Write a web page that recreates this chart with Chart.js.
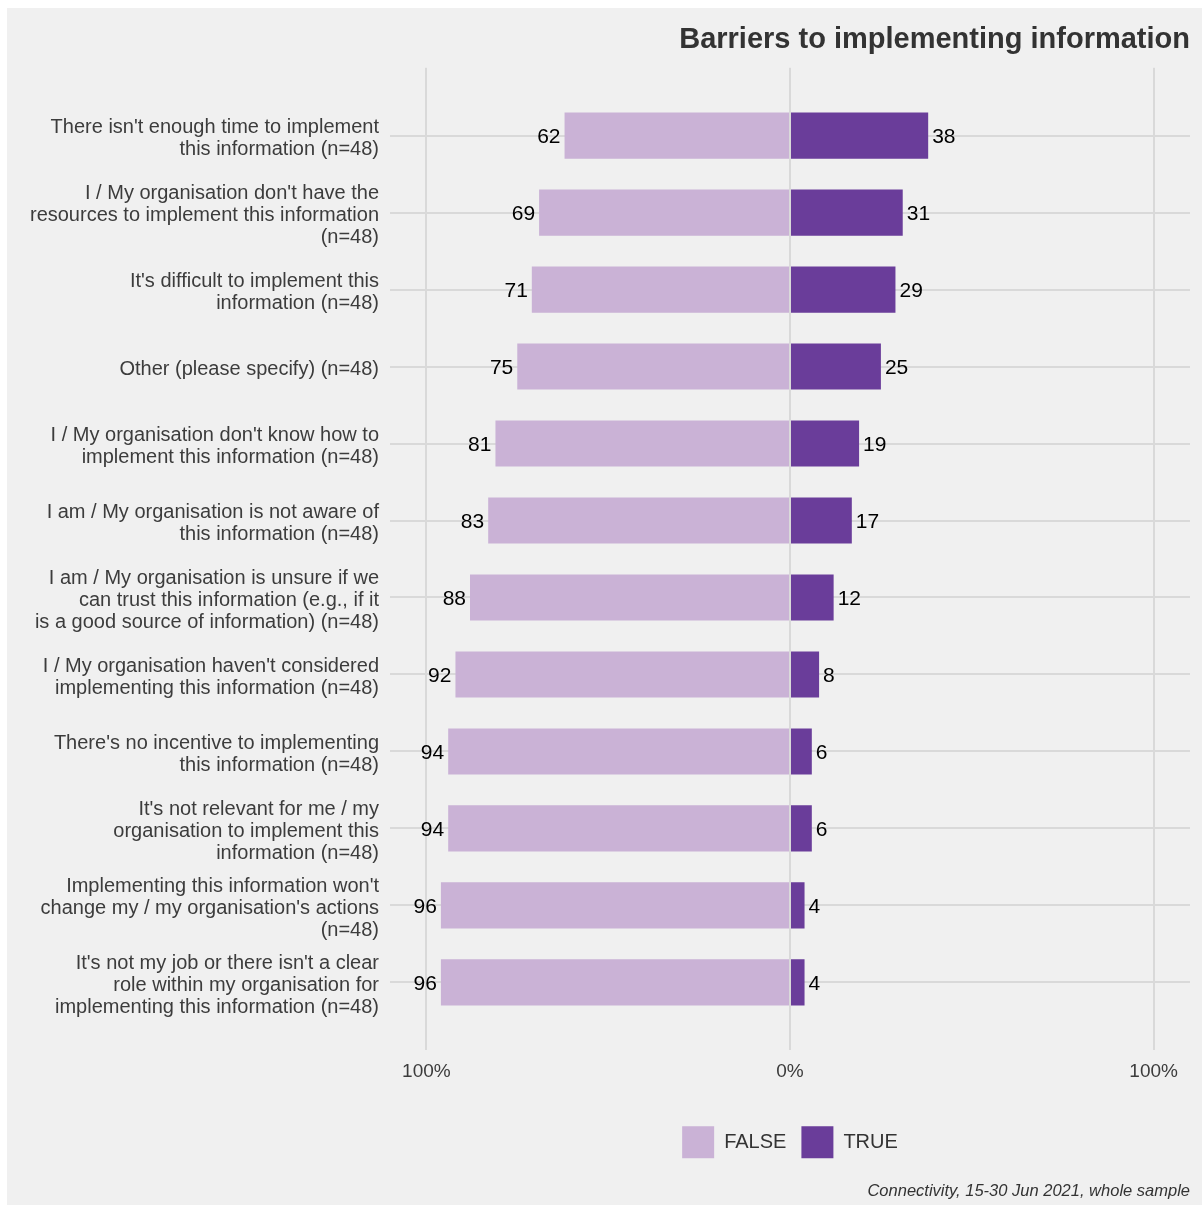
<!DOCTYPE html>
<html>
<head>
<meta charset="utf-8">
<script src="https://cdn.jsdelivr.net/npm/chart.js@4/dist/chart.umd.min.js"></script>
<style>
  html, body { margin: 0; padding: 0; background: #ffffff; }
  #panel {
    position: absolute;
    left: 7px;
    top: 8px;
    width: 1195px;
    height: 1197px;
    background: #f0f0f0;
  }
</style>
</head>
<body>
<div id="panel"><canvas id="chart"></canvas></div>
<script>
const categories = [
  ["There isn't enough time to implement", "this information (n=48)"],
  ["I / My organisation don't have the", "resources to implement this information", "(n=48)"],
  ["It's difficult to implement this", "information (n=48)"],
  ["Other (please specify) (n=48)"],
  ["I / My organisation don't know how to", "implement this information (n=48)"],
  ["I am / My organisation is not aware of", "this information (n=48)"],
  ["I am / My organisation is unsure if we", "can trust this information (e.g., if it", "is a good source of information) (n=48)"],
  ["I / My organisation haven't considered", "implementing this information (n=48)"],
  ["There's no incentive to implementing", "this information (n=48)"],
  ["It's not relevant for me / my", "organisation to implement this", "information (n=48)"],
  ["Implementing this information won't", "change my / my organisation's actions", "(n=48)"],
  ["It's not my job or there isn't a clear", "role within my organisation for", "implementing this information (n=48)"]
]

const falseShare = [62, 69, 71, 75, 81, 83, 88, 92, 94, 94, 96, 96]
const trueShare = [38, 31, 29, 25, 19, 17, 12, 8, 6, 6, 4, 4]

const xTicks = [-100, 0, 100]
const xTickLabels = ['100%', '0%', '100%']

const FONT = '"Liberation Sans", Arial, sans-serif'
const GRID = '#d9d9d9'

// percentages printed at the outer end of each bar
const valueLabels = {
  id: 'valueLabels',
  afterDatasetsDraw(chart) {
    const ctx = chart.ctx
    ctx.save()
    ctx.font = '21px ' + FONT
    ctx.fillStyle = '#000000'
    ctx.textBaseline = 'middle'
    chart.data.datasets.forEach((ds, di) => {
      chart.getDatasetMeta(di).data.forEach((bar, i) => {
        const v = ds.data[i].x
        const neg = v < 0
        ctx.textAlign = neg ? 'right' : 'left'
        ctx.fillText(String(Math.abs(v)), bar.x + (neg ? -4 : 4), bar.y + 2)
      })
    })
    ctx.restore()
  }
}

new Chart(document.getElementById('chart'), {
  type: 'bar',
  data: {
    datasets: [
      {
        label: 'FALSE',
        data: falseShare.map((v, i) => ({ x: -v, y: i })),
        backgroundColor: '#cab2d6',
        borderWidth: 0
      },
      {
        label: 'TRUE',
        data: trueShare.map((v, i) => ({ x: v, y: i })),
        backgroundColor: '#6a3d9a',
        borderWidth: 0
      }
    ]
  },
  options: {
    indexAxis: 'y',
    responsive: true,
    maintainAspectRatio: false,
    animation: false,
    categoryPercentage: 1,
    barPercentage: 0.6,
    layout: { padding: { right: 12 } },
    scales: {
      x: {
        type: 'linear',
        stacked: true,
        min: -110,
        max: 110,
        border: { display: false },
        grid: { color: GRID, lineWidth: 2, drawTicks: false },
        afterBuildTicks: axis => { axis.ticks = xTicks.map(v => ({ value: v })) },
        afterFit: axis => { axis.height = 61 },
        ticks: {
          padding: 10,
          color: '#3c3c3c',
          font: { family: FONT, size: 19 },
          callback: (value) => xTickLabels[xTicks.indexOf(value)]
        }
      },
      y: {
        type: 'linear',
        stacked: true,
        reverse: true,
        offset: false,
        min: -0.88,
        max: categories.length - 1 + 0.88,
        border: { display: false },
        grid: { color: GRID, lineWidth: 2, drawTicks: false, offset: false },
        afterBuildTicks: axis => { axis.ticks = categories.map((_, i) => ({ value: i })) },
        afterFit: axis => { axis.width = 383 },
        ticks: {
          autoSkip: false,
          padding: 11,
          labelOffset: 3,
          color: '#3c3c3c',
          font: { family: FONT, size: 20, lineHeight: 1.1 },
          callback: (value) => categories[value]
        }
      }
    },
    plugins: {
      title: {
        display: true,
        text: 'Barriers to implementing information',
        align: 'end',
        fullSize: false,
        color: '#333333',
        font: { family: FONT, size: 29, weight: 'bold', lineHeight: 1.2 },
        padding: { top: 15, bottom: 10 }
      },
      subtitle: {
        display: true,
        position: 'bottom',
        text: 'Connectivity, 15-30 Jun 2021, whole sample',
        align: 'end',
        fullSize: false,
        color: '#333333',
        font: { family: FONT, size: 16.5, style: 'italic', lineHeight: 1.2 },
        padding: { top: 13, bottom: 4 }
      },
      legend: {
        position: 'bottom',
        fullSize: false,
        labels: {
          boxWidth: 32,
          boxHeight: 32,
          padding: 15,
          color: '#333333',
          font: { family: FONT, size: 20 }
        }
      },
      tooltip: { enabled: false }
    }
  },
  plugins: [valueLabels]
})
</script>
</body>
</html>
